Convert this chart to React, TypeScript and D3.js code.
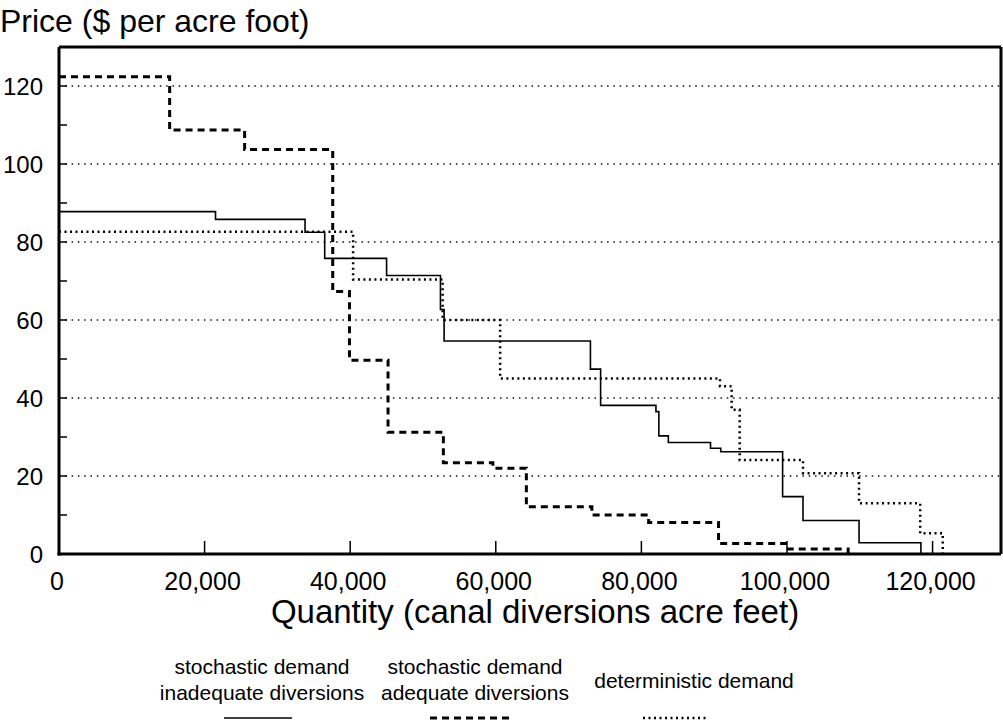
import React from "react";
import * as d3 from "d3";

// Step curves: [quantity where level starts, price level]
const inadequateSteps: [number, number][] = [
  [0, 87.8], [21500, 85.8], [33800, 82.5], [36500, 75.8], [45000, 71.4],
  [52400, 62.7], [52900, 54.6], [73000, 47.4], [74400, 38.1], [82000, 36.5],
  [82400, 30.3], [83700, 28.6], [89500, 27.1], [90900, 26.2], [99400, 14.7],
  [102200, 8.6], [109900, 2.9], [118400, 0],
];
const adequateSteps: [number, number][] = [
  [0, 122.4], [15200, 108.7], [25500, 103.7], [37600, 67.3], [39900, 49.7],
  [45200, 31.2], [52800, 23.4], [59600, 22.0], [64200, 12.1], [73200, 10.0],
  [81000, 8.1], [90600, 2.7], [99800, 1.3], [108400, 0],
];
const deterministicSteps: [number, number][] = [
  [0, 82.6], [40400, 70.4], [52700, 60.0], [60600, 45.0], [90800, 43.0],
  [92400, 37.0], [93500, 24.1], [102200, 20.7], [109900, 13.0], [118300, 5.3],
  [121400, 0],
];

const xTicks = [0, 20000, 40000, 60000, 80000, 100000, 120000];
const yTicks = [0, 20, 40, 60, 80, 100, 120];
const yMinorTicks = [10, 30, 50, 70, 90, 110];
const gridValues = [20, 40, 60, 80, 100, 120];

const legendItems = [
  { lines: ["stochastic demand", "inadequate diversions"], dash: "none", width: 1.6 },
  { lines: ["stochastic demand", "adequate diversions"], dash: "7,5", width: 3 },
  { lines: ["deterministic demand"], dash: "2,3.5", width: 2.5 },
];

const FONT = "Liberation Sans, Arial, Helvetica, sans-serif";

export default function App() {
  const x = d3.scaleLinear().domain([0, 129400]).range([59, 1001]);
  const y = d3.scaleLinear().domain([0, 130]).range([554, 47]);
  const line = d3
    .line<[number, number]>()
    .x((d) => x(d[0]))
    .y((d) => y(d[1]))
    .curve(d3.curveStepAfter);
  const fmt = d3.format(",");

  const legendCenters = [262, 475, 694];
  const legendLine = [[224, 292], [430, 513], [643, 707]];

  return (
    <svg
      width={1003}
      height={728}
      style={{ position: "absolute", left: 0, top: 0, background: "#fff" }}
      fontFamily={FONT}
    >
      <rect x={0} y={0} width={1003} height={728} fill="#fff" />
      {/* grid */}
      {gridValues.map((v) => (
        <line
          key={"g" + v}
          x1={x(0)}
          x2={x(129400)}
          y1={y(v)}
          y2={y(v)}
          stroke="#111"
          strokeWidth={1.3}
          strokeDasharray="1.5,4.8"
        />
      ))}
      {/* curves */}
      <path d={line(inadequateSteps) || ""} fill="none" stroke="#000" strokeWidth={1.6} />
      <path d={line(adequateSteps) || ""} fill="none" stroke="#000" strokeWidth={3} strokeDasharray="7,5" />
      <path d={line(deterministicSteps) || ""} fill="none" stroke="#000" strokeWidth={2.5} strokeDasharray="2,3.5" />
      {/* frame */}
      <line x1={x(0)} x2={x(129400)} y1={y(130)} y2={y(130)} stroke="#000" strokeWidth={3} />
      <line x1={x(129400)} x2={x(129400)} y1={y(130)} y2={y(0)} stroke="#000" strokeWidth={3} />
      <line x1={x(0)} x2={x(0)} y1={y(130)} y2={y(0) + 1.5} stroke="#000" strokeWidth={3} />
      <line x1={x(0) - 1.5} x2={x(129400)} y1={y(0)} y2={y(0)} stroke="#000" strokeWidth={3} />
      {/* y ticks */}
      {yTicks.map((v) => (
        <g key={"yt" + v}>
          <line x1={x(0)} x2={x(0) + 8} y1={y(v)} y2={y(v)} stroke="#000" strokeWidth={1.5} />
          <text x={43} y={y(v)} dy="0.36em" textAnchor="end" fontSize={24}>
            {v}
          </text>
        </g>
      ))}
      {yMinorTicks.map((v) => (
        <line key={"ym" + v} x1={x(0)} x2={x(0) + 8} y1={y(v)} y2={y(v)} stroke="#000" strokeWidth={1.5} />
      ))}
      {/* x ticks */}
      {xTicks.map((v) => (
        <g key={"xt" + v}>
          {v > 0 && (
            <line x1={x(v)} x2={x(v)} y1={y(0)} y2={y(0) - 13} stroke="#000" strokeWidth={1.5} />
          )}
          <text x={x(v) - 2} y={590} textAnchor="middle" fontSize={25}>
            {fmt(v)}
          </text>
        </g>
      ))}
      {/* titles */}
      <text x={0} y={32} fontSize={32}>
        Price ($ per acre foot)
      </text>
      <text x={535} y={623} textAnchor="middle" fontSize={33}>
        Quantity (canal diversions acre feet)
      </text>
      {/* legend */}
      {legendItems.map((it, i) => (
        <g key={"lg" + i}>
          {it.lines.length === 2 ? (
            <>
              <text x={legendCenters[i]} y={674} textAnchor="middle" fontSize={21}>
                {it.lines[0]}
              </text>
              <text x={legendCenters[i]} y={700} textAnchor="middle" fontSize={21}>
                {it.lines[1]}
              </text>
            </>
          ) : (
            <text x={legendCenters[i]} y={688} textAnchor="middle" fontSize={21}>
              {it.lines[0]}
            </text>
          )}
          <line
            x1={legendLine[i][0]}
            x2={legendLine[i][1]}
            y1={718}
            y2={718}
            stroke="#000"
            strokeWidth={it.width}
            strokeDasharray={it.dash}
          />
        </g>
      ))}
    </svg>
  );
}
